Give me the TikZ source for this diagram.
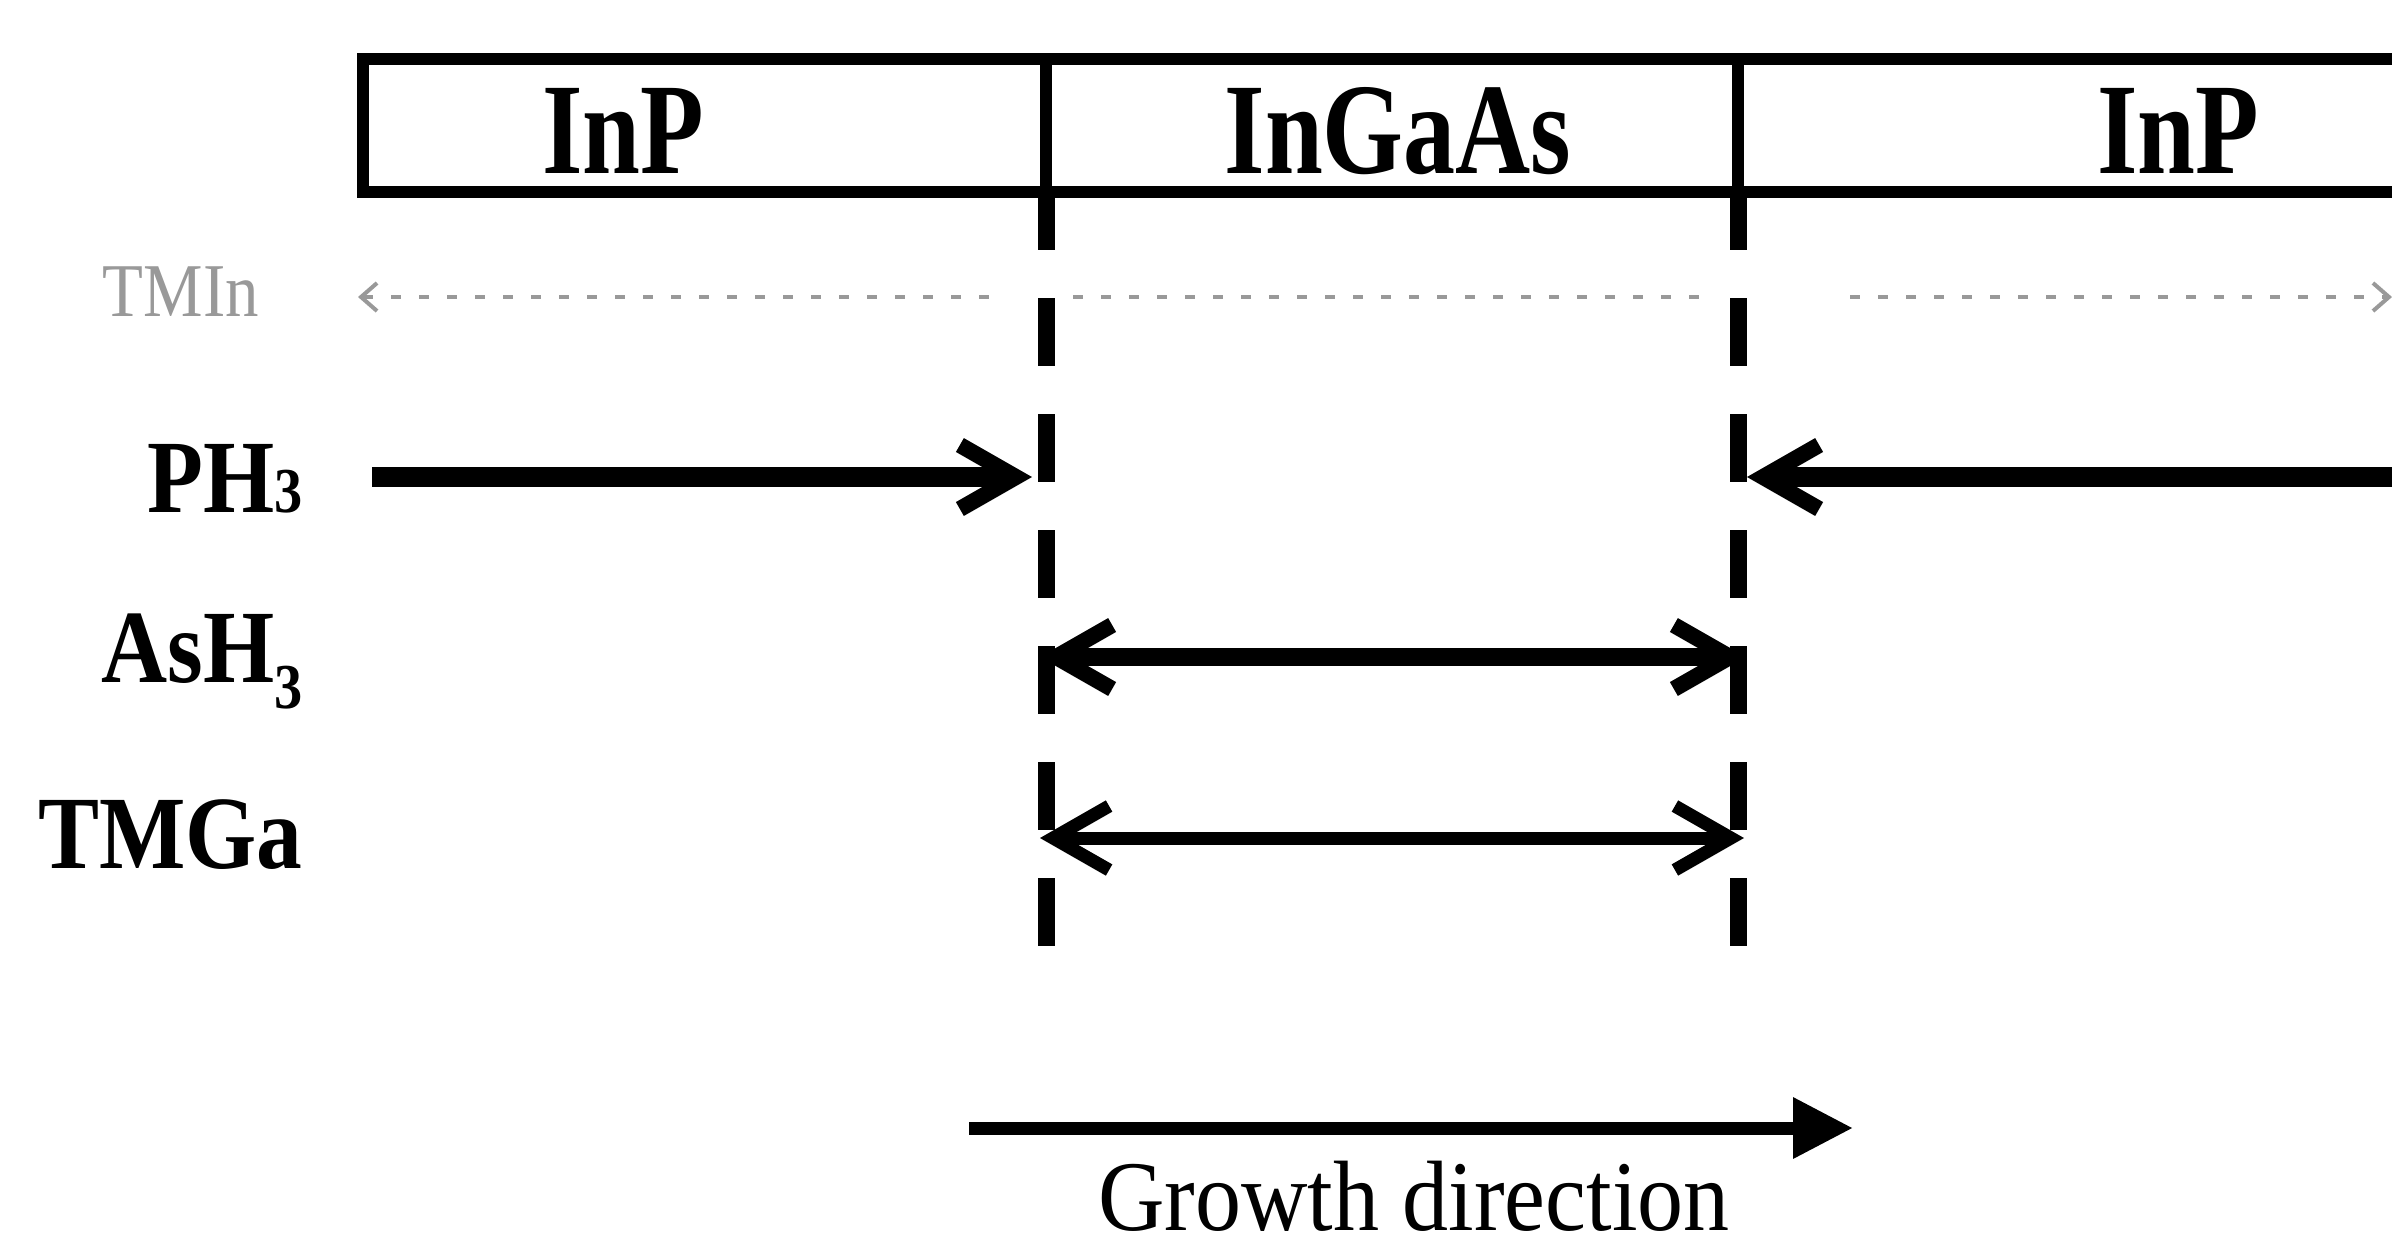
\documentclass[tikz,border=0pt]{standalone}
\usepackage{fontspec}
\setmainfont{Liberation Serif}
\newfontfamily\boxfont[FakeStretch=0.8]{Liberation Serif}
\newfontfamily\labfont[FakeStretch=0.88]{Liberation Serif}
\newfontfamily\gdfont[FakeStretch=0.92]{Liberation Serif}
\usetikzlibrary{arrows.meta}
\tikzset{
  barbthick/.tip={Straight Barb[length=28pt,width=32pt,line width=8pt]},
  barbthin/.tip={Straight Barb[length=28pt,width=32pt,line width=6.5pt]},
  barbfaint/.tip={Straight Barb[length=8pt,width=14pt,line width=2pt]}
}
\begin{document}
\begin{tikzpicture}[x=0.5pt,y=-0.5pt,
  cell/.style={draw,line width=6pt,minimum height=66.5pt,inner sep=0pt,outer sep=0pt,anchor=north west},
  boxtxt/.style={anchor=base,inner sep=0pt,font=\boxfont\bfseries\fontsize{65}{65}\selectfont},
  lab/.style={anchor=base east,inner sep=0pt,font=\labfont\bfseries\fontsize{52}{52}\selectfont},
  vdash/.style={line width=8.5pt,dash pattern=on 34pt off 24pt,dash phase=5pt},
  faint/.style={draw=black!40,line width=2pt,dash pattern=on 5pt off 9pt}]
\useasboundingbox (0,0) rectangle (2392,1255);
\clip (0,0) rectangle (2392,1255);
% layer bar
\node[cell,minimum width=341.5pt] (c1) at (363,59) {};
\node[cell,minimum width=346pt] (c2) at (c1.north east) {};
\node[cell,minimum width=381pt] (c3) at (c2.north east) {};
\node[boxtxt] (t1) at (623,173) {InP};
\node[boxtxt] (t2) at (1398,173) {InGaAs};
\node[boxtxt] (t3) at (2178,173) {InP};
% interface lines
\coordinate (d1b) at (1046,952);
\coordinate (d2b) at (1738,952);
\draw[vdash] (c1.south east) -- (d1b);
\draw[vdash] (c2.south east) -- (d2b);
% faint TMIn row
\node[anchor=base,inner sep=0pt,text=black!40,font=\labfont\fontsize{38}{38}\selectfont] (tmin) at (181,316) {TMIn};
\coordinate (m0) at (358,297);
\coordinate (m1) at (1000,297);
\coordinate (m2) at (1073,297);
\coordinate (m3) at (1710,297);
\coordinate (m4) at (1850,297);
\coordinate (m5) at (2392,297);
\draw[faint,barbfaint-] (m0) -- (m1);
\draw[faint] (m2) -- (m3);
\draw[faint,-barbfaint] (m4) -- (m5);
% PH3
\node[lab] (ph3) at (303,512) {PH{\fontsize{32}{32}\selectfont 3}};
\coordinate (p1) at (372,477);
\coordinate (p2) at (1032,477);
\coordinate (p3) at (2420,477);
\coordinate (p4) at (1747,477);
\draw[line width=10pt,-barbthick] (p1) -- (p2);
\draw[line width=10pt,-barbthick] (p3) -- (p4);
% AsH3
\node[lab] (ash3) at (303,682) {AsH\raisebox{-13pt}{\fontsize{32}{32}\selectfont 3}};
\coordinate (a1) at (1040,657);
\coordinate (a2) at (1746,657);
\draw[line width=9pt,barbthick-barbthick] (a1) -- (a2);
% TMGa
\node[lab] (tmga) at (303,868) {TMGa};
\coordinate (g1) at (1040,838);
\coordinate (g2) at (1744,838);
\draw[line width=6.5pt,barbthin-barbthin] (g1) -- (g2);
% growth direction
\coordinate (gr1) at (969,1128);
\coordinate (gr2) at (1853,1128);
\draw[line width=6.5pt,-{Triangle[length=30pt,width=29pt]}] (gr1) -- (gr2);
\node[anchor=base,inner sep=0pt,font=\gdfont\fontsize{50}{50}\selectfont] (gd) at (1414,1230) {Growth direction};
\end{tikzpicture}
\end{document}
